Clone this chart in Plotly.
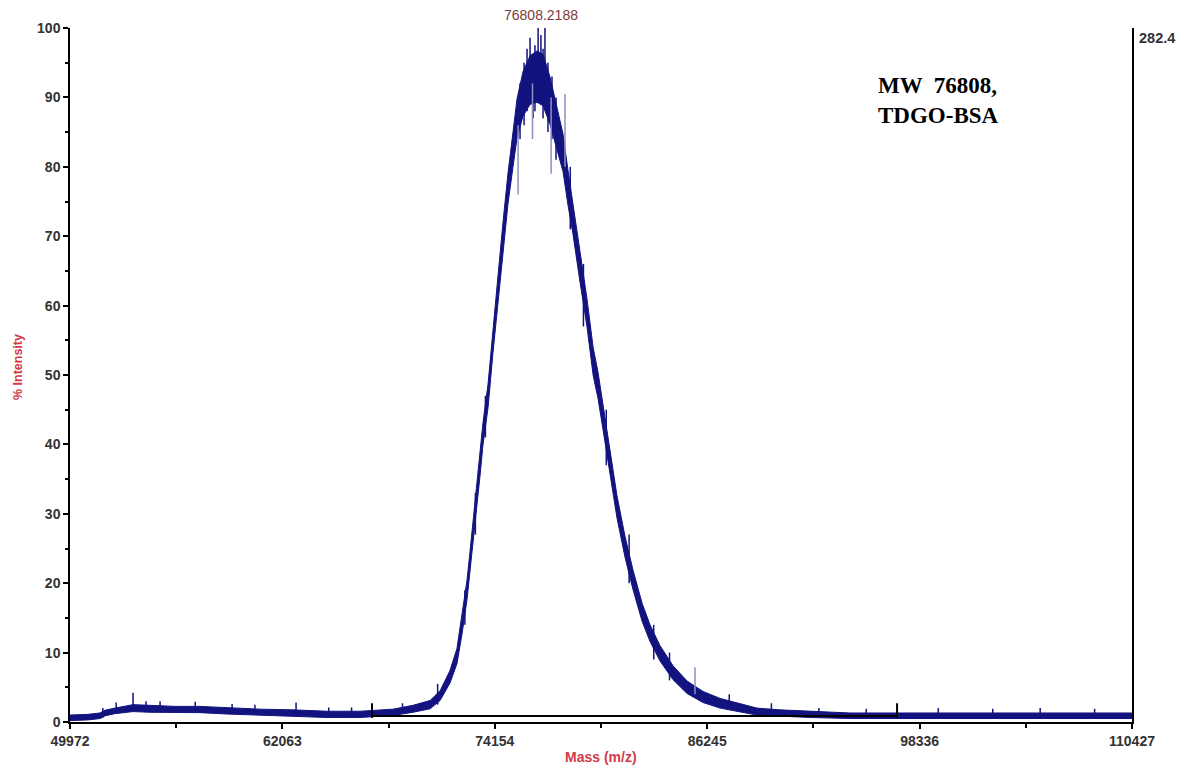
import plotly.graph_objects as go

# ---- data ----
mass = [49972, 51000, 51680, 51970, 52530, 53560, 54530, 55950, 57370, 58910,
        60790, 62670, 64600, 66480, 67450, 68360, 69500, 70470, 71040, 71600,
        72000, 72290, 72570, 72740, 72910, 73140, 73310, 73480, 73770, 74050,
        74340, 74620, 74910, 75190, 75420, 75760, 76160, 76560, 76900, 77300,
        77700, 78040, 78320, 78610, 79010, 79400, 79750, 80030, 80310, 80710,
        81110, 81570, 82020, 82540, 82990, 83560, 84300, 85100, 86010, 86980,
        88120, 89080, 90390, 92100, 94380, 97220, 100640, 104060, 107470, 110427]
lower = [0.2, 0.3, 0.5, 0.9, 1.2, 1.5, 1.4, 1.35, 1.35, 1.15,
         0.95, 0.85, 0.65, 0.65, 0.75, 0.95, 1.4, 1.9, 3.1, 5.6,
         8.4, 12.7, 17.6, 21.5, 26.0, 31.0, 35.4, 39.9, 45.3, 53.2,
         60.6, 68.0, 74.8, 80.0, 84.2, 87.3, 89.0, 89.3, 88.8, 86.1,
         82.5, 79.3, 74.5, 70.2, 63.3, 57.0, 50.0, 46.6, 42.2, 35.8,
         29.4, 23.7, 19.1, 14.5, 11.6, 8.8, 6.1, 4.1, 2.8, 2.0,
         1.4, 1.0, 0.85, 0.65, 0.5, 0.5, 0.5, 0.5, 0.5, 0.5]
upper = [1.0, 1.1, 1.3, 1.7, 2.0, 2.5, 2.4, 2.25, 2.25, 2.05,
         1.85, 1.75, 1.55, 1.55, 1.65, 1.85, 2.4, 3.1, 4.5, 7.4,
         10.6, 15.3, 20.4, 24.5, 29.0, 34.0, 38.6, 43.1, 48.7, 56.8,
         64.4, 72.0, 79.2, 85.0, 89.8, 93.7, 96.0, 96.7, 96.2, 92.9,
         88.5, 84.7, 79.5, 74.8, 67.7, 61.0, 54.0, 50.4, 45.8, 39.2,
         32.6, 26.7, 21.9, 17.1, 14.0, 11.0, 8.1, 5.9, 4.4, 3.4,
         2.6, 2.0, 1.75, 1.55, 1.3, 1.3, 1.3, 1.3, 1.3, 1.3]

# isolated noise spikes (mass, bottom, top)
spike_mass = [51840, 52600, 53560, 54300, 55100, 57100, 59200, 60500, 62840,
              64700, 66000, 68900, 70900, 72450, 73050, 73620,
              75590, 75820, 75990, 76160, 76330, 76440, 76620, 76780, 76900,
              77010, 77180, 77410, 77640, 78450, 79200, 80500, 81800,
              83200, 84100, 87500, 89900, 92600, 95300, 99400, 102500,
              105200, 108300]
spike_low = [0.6, 1.2, 1.5, 1.5, 1.5, 1.4, 1.3, 1.1, 1.0,
             0.8, 0.8, 1.2, 2.5, 14.0, 27.0, 41.0,
             84.0, 86.0, 88.0, 89.0, 87.0, 88.0, 90.0, 89.0, 87.0,
             90.0, 85.0, 84.0, 81.0, 71.0, 57.0, 37.0, 20.0,
             9.0, 6.0, 1.8, 1.0, 0.7, 0.6, 0.6, 0.6,
             0.6, 0.6]
spike_high = [2.0, 2.8, 4.2, 3.0, 3.0, 2.9, 2.6, 2.5, 2.8,
              2.1, 2.1, 2.7, 5.5, 19.0, 33.0, 47.0,
              92.0, 95.0, 97.0, 98.6, 96.0, 97.5, 100.0, 99.0, 97.0,
              100.0, 95.0, 93.0, 90.0, 80.0, 66.0, 45.0, 27.0,
              14.0, 10.0, 4.0, 2.7, 2.0, 1.9, 2.0, 1.9,
              2.0, 1.9]
light_mass = [75480, 77360, 78150, 85550, 76300]
light_low = [76.0, 79.0, 80.0, 4.0, 84.0]
light_high = [86.0, 90.0, 90.5, 7.9, 92.0]

# black region markers
marker_mass = [67165, 97053]
marker_low = [0.6, 0.6]
marker_high = [2.7, 2.7]
region_level = 0.85

x_ticks = [49972, 62063, 74154, 86245, 98336, 110427]
x_labels = ["49972", "62063", "74154", "86245", "98336", "110427"]
y_ticks = [0, 10, 20, 30, 40, 50, 60, 70, 80, 90, 100]
y_labels = ["0", "10", "20", "30", "40", "50", "60", "70", "80", "90", "100"]
peak_label = "76808.2188"
peak_mass = 76808
right_label = "282.4"

NAVY = "#13137f"


def seg(xs, lo, hi):
    X, Y = [], []
    for a, b, c in zip(xs, lo, hi):
        X += [a, a, None]
        Y += [b, c, None]
    return X, Y


fig = go.Figure()
fig.add_trace(go.Scatter(x=mass, y=lower, mode="lines",
                         line=dict(color=NAVY, width=1), hoverinfo="skip"))
fig.add_trace(go.Scatter(x=mass, y=upper, mode="lines", fill="tonexty",
                         fillcolor=NAVY, line=dict(color=NAVY, width=1),
                         hoverinfo="skip"))
sx, sy = seg(spike_mass, spike_low, spike_high)
fig.add_trace(go.Scatter(x=sx, y=sy, mode="lines",
                         line=dict(color=NAVY, width=1.5), hoverinfo="skip"))
lx, ly = seg(light_mass, light_low, light_high)
fig.add_trace(go.Scatter(x=lx, y=ly, mode="lines",
                         line=dict(color="#8f8fbf", width=1.5), hoverinfo="skip"))
# black region line + markers
fig.add_trace(go.Scatter(x=marker_mass, y=[region_level, region_level], mode="lines",
                         line=dict(color="black", width=2), hoverinfo="skip"))
mx, my = seg(marker_mass, marker_low, marker_high)
fig.add_trace(go.Scatter(x=mx, y=my, mode="lines",
                         line=dict(color="black", width=2), hoverinfo="skip"))

titlefont = dict(family="Liberation Sans, Arial", size=14, color="#d23a46", weight="bold")

fig.update_layout(
    width=1181, height=769,
    margin=dict(l=70, r=49, t=28, b=47),
    paper_bgcolor="white", plot_bgcolor="white",
    showlegend=False,
    font=dict(family="Liberation Sans, Arial", size=14, color="#333333"),
    xaxis=dict(range=[x_ticks[0], x_ticks[-1]], tickmode="array", tickvals=x_ticks,
               ticktext=["<b>%s</b>" % t for t in x_labels],
               ticks="outside", ticklen=5, tickwidth=1.5,
               tickcolor="black", showline=True, linecolor="black", linewidth=1.5,
               showgrid=False, zeroline=False,
               minor=dict(tick0=x_ticks[0], dtick=(x_ticks[1] - x_ticks[0]) / 2,
                          ticks="outside", ticklen=4, tickwidth=1.5, tickcolor="black",
                          showgrid=False)),
    yaxis=dict(range=[0, 100], tickmode="array", tickvals=y_ticks,
               ticktext=["<b>%s</b>" % t for t in y_labels],
               ticks="outside", ticklen=5, tickwidth=1.5, tickcolor="black",
               showline=True, linecolor="black", linewidth=1.5, mirror=True,
               showgrid=False, zeroline=False,
               minor=dict(tick0=0, dtick=5, ticks="outside", ticklen=3,
                          tickwidth=1.5, tickcolor="black", showgrid=False)),
)
fig.update_xaxes(tickfont=dict(size=14, color="#333333", family="Liberation Sans, Arial"))
fig.update_yaxes(tickfont=dict(size=14, color="#333333", family="Liberation Sans, Arial"))

fig.add_annotation(x=peak_mass, y=1, xref="x", yref="paper", yanchor="bottom",
                   text=peak_label, showarrow=False, yshift=3,
                   font=dict(family="Liberation Sans, Arial", size=14, color="#7d3b3b"))
fig.add_annotation(x=1, y=1, xref="paper", yref="paper", xanchor="left", yanchor="top",
                   text="<b>%s</b>" % right_label, showarrow=False, xshift=5,
                   font=dict(family="Liberation Sans, Arial", size=14.5, color="#333333"))
fig.add_annotation(x=0.5, y=0, xref="paper", yref="paper", yanchor="top",
                   text="Mass (m/z)", showarrow=False, yshift=-25, font=titlefont)
fig.add_annotation(x=0, y=0.5, xref="paper", yref="paper", xanchor="center",
                   text="% Intensity", showarrow=False, xshift=-52, yshift=8,
                   textangle=-90,
                   font=dict(family="Liberation Sans, Arial", size=12.5, color="#d23a46",
                             weight="bold"))
fig.add_annotation(x=0.759, y=0.938, xref="paper", yref="paper", xanchor="left",
                   yanchor="top", align="left",
                   text="<b>MW  76808,<br>TDGO-BSA</b>", showarrow=False,
                   font=dict(family="Liberation Serif, Times New Roman", size=23,
                             color="black"))

fig.write_html("out.html", config={"displayModeBar": False},
               post_script="document.body.style.margin='0';document.body.style.overflow='hidden';")
